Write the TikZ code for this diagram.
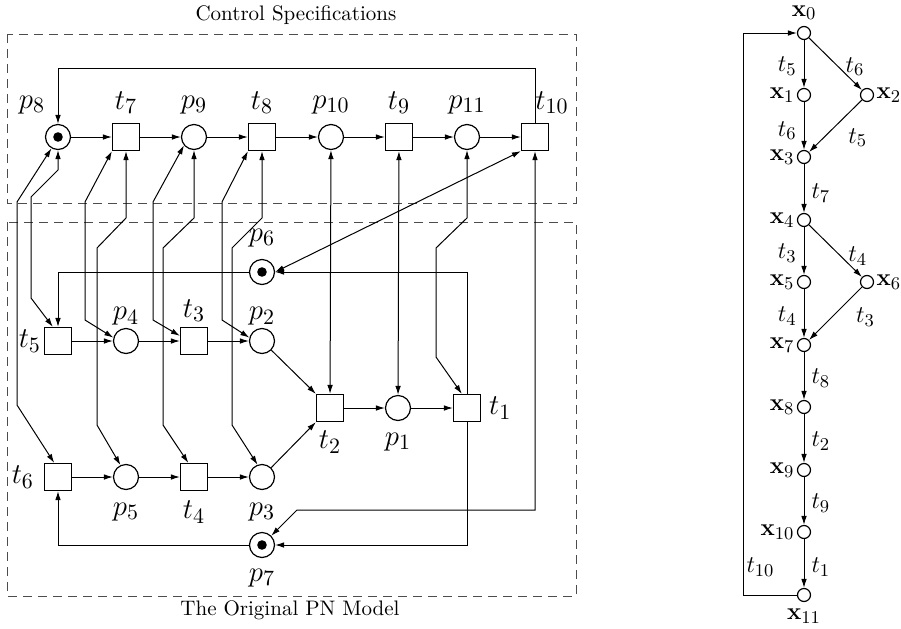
\documentclass[tikz,border=0pt]{standalone}
\usepackage{tikz}
\usetikzlibrary{arrows.meta}

\tikzset{
  pl/.style={circle, draw, line width=0.6pt, minimum size=12.5pt, inner sep=0pt},
  marked/.style={pl, path picture={\fill (path picture bounding box.center) circle (2.4pt);}},
  tbox/.style={rectangle, draw, line width=0.6pt, minimum size=13.5pt, inner sep=0pt},
  parc/.style={-{Latex[length=4.5pt,width=2.8pt]}},
  darc/.style={{Latex[length=4.5pt,width=2.8pt]}-{Latex[length=4.5pt,width=2.8pt]}},
  lbl/.style={font=\fontsize{15}{18}\selectfont, inner sep=2pt},
  title/.style={font=\fontsize{10.5}{12.6}\selectfont},
  specbox/.style={dash pattern=on 4.5pt off 3pt, draw=black!70},
  stt/.style={circle, draw, line width=0.6pt, minimum size=6.5pt, inner sep=0pt},
  slbl/.style={font=\fontsize{12.5}{15}\selectfont, inner sep=1pt},
  elbl/.style={font=\fontsize{12.5}{15}\selectfont, inner sep=3.5pt}
}

\begin{document}
\begin{tikzpicture}[x=0.5pt, y=-0.5pt, line width=0.5pt]
\useasboundingbox (0,0) rectangle (901,628);

% Frames
\draw[specbox] (7,34) rectangle (576,203);
\draw[specbox] (7,222) rectangle (576,596);
\node[title] (spec) at (296,15) {Control Specifications};
\node[title] (orig) at (290,610) {The Original PN Model};

% Control specifications
\node[marked, label={[lbl,label distance=2.75pt,xshift=-13pt]above:$p_8$}] (p8) at (58,137) {};
\node[tbox, label={[lbl,label distance=2.25pt]above:$t_7$}] (t7) at (126,137) {};
\node[pl, label={[lbl,label distance=2.75pt]above:$p_9$}] (p9) at (194,137) {};
\node[tbox, label={[lbl,label distance=2.25pt]above:$t_8$}] (t8) at (262,137) {};
\node[pl, label={[lbl,label distance=2.75pt]above:$p_{10}$}] (p10) at (331,137) {};
\node[tbox, label={[lbl,label distance=2.25pt]above:$t_9$}] (t9) at (399,137) {};
\node[pl, label={[lbl,label distance=2.75pt]above:$p_{11}$}] (p11) at (467,137) {};
\node[tbox, label={[lbl,label distance=2.25pt,xshift=8.5pt]above:$t_{10}$}] (t10) at (535,137) {};

% Original PN model
\node[marked, label={[lbl,label distance=3.75pt]above:$p_6$}] (p6) at (262,272) {};
\node[tbox, label={[lbl,label distance=-0.75pt]left:$t_5$}] (t5) at (58,341) {};
\node[pl, label={[lbl,label distance=-1pt]above:$p_4$}] (p4) at (126,341) {};
\node[tbox, label={[lbl,label distance=0.5pt]above:$t_3$}] (t3) at (194,341) {};
\node[pl, label={[lbl,label distance=-1pt]above:$p_2$}] (p2) at (262,341) {};
\node[tbox, label={[lbl,label distance=2.25pt]below:$t_2$}] (t2) at (330,408) {};
\node[pl, label={[lbl,label distance=3.75pt]below:$p_1$}] (p1) at (398,408) {};
\node[tbox, label={[lbl,label distance=1.75pt]right:$t_1$}] (t1) at (467,408) {};
\node[tbox, label={[lbl,label distance=2.75pt]left:$t_6$}] (t6) at (58,477) {};
\node[pl, label={[lbl,label distance=4.25pt]below:$p_5$}] (p5) at (126,477) {};
\node[tbox, label={[lbl,label distance=2.75pt]below:$t_4$}] (t4) at (194,477) {};
\node[pl, label={[lbl,label distance=4.25pt]below:$p_3$}] (p3) at (262,477) {};
\node[marked, label={[lbl,label distance=3.25pt]below:$p_7$}] (p7) at (262,545) {};

% Arcs of the specifications
\draw[parc] (p8) -- (t7);
\draw[parc] (t7) -- (p9);
\draw[parc] (p9) -- (t8);
\draw[parc] (t8) -- (p10);
\draw[parc] (p10) -- (t9);
\draw[parc] (t9) -- (p11);
\draw[parc] (p11) -- (t10);
\draw[parc] (t10.north) -- (535,68) -| (p8.north);

% Arcs of the original model
\draw[parc] (t5) -- (p4);
\draw[parc] (p4) -- (t3);
\draw[parc] (t3) -- (p2);
\draw[parc] (p2) -- (t2.north west);
\draw[parc] (t6) -- (p5);
\draw[parc] (p5) -- (t4);
\draw[parc] (t4) -- (p3);
\draw[parc] (p3) -- (t2.south west);
\draw[parc] (t2) -- (p1);
\draw[parc] (p1) -- (t1);
\draw[parc] (t1.north) |- (p6.east);
\draw[parc] (t1.south) |- (p7.east);
\draw[parc] (p6.west) -| (t5.north);
\draw[parc] (p7.west) -| (t6.south);

% Links between the two nets
\draw[darc] (p8.240) -- (17,202) -- (17,405) -- (t6.105);
\draw[darc] (p8.south) -- (58,170) -- (31,197) -- (31,298) -- (t5.110);
\draw[darc] (t7.south west) -- (85,202) -- (85,320) -- (p4.165);
\draw[darc] (t7.south) -- (126,218) -- (97,248) -- (97,425) -- (p5.115);
\draw[darc] (p9.220) -- (153,202) -- (153,320) -- (t3.160);
\draw[darc] (p9.south) -- (194,218) -- (163,248) -- (163,425) -- (t4.112);
\draw[darc] (t8.south west) -- (222,202) -- (222,320) -- (p2.165);
\draw[darc] (t8.south) -- (262,218) -- (232,248) -- (232,425) -- (p3.110);
\draw[darc] (p10) -- (t2);
\draw[darc] (t9) -- (p1);
\draw[darc] (p11.south) -- (467,218) -- (436,248) -- (436,357) -- (t1.110);
\draw[darc] (t10.south west) -- (p6.east);
\draw[darc] (t10.south) -- (535,510) -- (297,510) -- (p7.45);

% Reachability graph
\node[stt, label={[slbl,label distance=1.75pt]above:$\mathbf{x}_0$}] (x0) at (804,33) {};
\node[stt, label={[slbl]left:$\mathbf{x}_1$}] (x1) at (804,95) {};
\node[stt, label={[slbl]right:$\mathbf{x}_2$}] (x2) at (867,95) {};
\node[stt, label={[slbl]left:$\mathbf{x}_3$}] (x3) at (804,157) {};
\node[stt, label={[slbl]left:$\mathbf{x}_4$}] (x4) at (804,220) {};
\node[stt, label={[slbl]left:$\mathbf{x}_5$}] (x5) at (804,282) {};
\node[stt, label={[slbl]right:$\mathbf{x}_6$}] (x6) at (867,282) {};
\node[stt, label={[slbl]left:$\mathbf{x}_7$}] (x7) at (804,345) {};
\node[stt, label={[slbl]left:$\mathbf{x}_8$}] (x8) at (804,407) {};
\node[stt, label={[slbl]left:$\mathbf{x}_9$}] (x9) at (804,470) {};
\node[stt, label={[slbl]left:$\mathbf{x}_{10}$}] (x10) at (804,532) {};
\node[stt, label={[slbl,label distance=2.25pt]below:$\mathbf{x}_{11}$}] (x11) at (804,595) {};

\draw[parc] (x0) -- node[elbl, left, pos=0.55] {$t_5$} (x1);
\draw[parc] (x0) -- node[elbl, right, pos=0.55] {$t_6$} (x2);
\draw[parc] (x1) -- node[elbl, left, pos=0.6] {$t_6$} (x3);
\draw[parc] (x2) -- node[elbl, below right, pos=0.4] {$t_5$} (x3);
\draw[parc] (x3) -- node[elbl, right, pos=0.6] {$t_7$} (x4);
\draw[parc] (x4) -- node[elbl, left, pos=0.55] {$t_3$} (x5);
\draw[parc] (x4) -- node[elbl, right, pos=0.6] {$t_4$} (x6);
\draw[parc] (x5) -- node[elbl, left, pos=0.55] {$t_4$} (x7);
\draw[parc] (x6) -- node[elbl, below right, pos=0.25] {$t_3$} (x7);
\draw[parc] (x7) -- node[elbl, right, pos=0.55] {$t_8$} (x8);
\draw[parc] (x8) -- node[elbl, right, pos=0.55] {$t_2$} (x9);
\draw[parc] (x9) -- node[elbl, right, pos=0.55] {$t_9$} (x10);
\draw[parc] (x10) -- node[elbl, right, pos=0.57] {$t_1$} (x11);
\draw[parc] (x11.west) -- (743,595) |- node[elbl, right, inner sep=1.5pt, pos=0.025] {$t_{10}$} (x0.west);

\end{tikzpicture}
\end{document}
